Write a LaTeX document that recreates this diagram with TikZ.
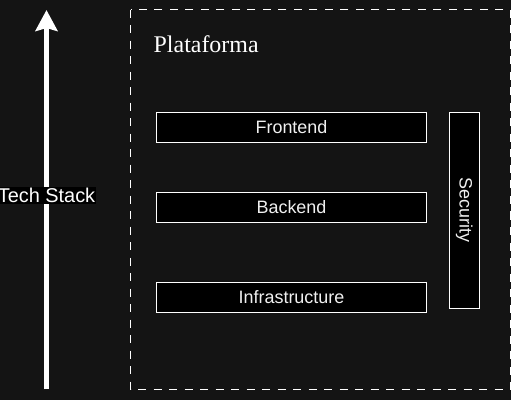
\documentclass[tikz,border=0pt]{standalone}
\usepackage{fontspec}
\setmainfont{Liberation Serif}
\setsansfont{Liberation Sans}
\usetikzlibrary{arrows.meta}
\definecolor{bgdark}{HTML}{141414}
\definecolor{textlight}{HTML}{F0F0F0}

\begin{document}
\begin{tikzpicture}[x=1bp, y=-1bp,
    layer/.style={draw=white, fill=black, text=textlight, line width=1bp, inner sep=0pt,
        minimum width=270bp, minimum height=30bp, font=\sffamily\fontsize{18}{20}\selectfont}]
        % Background
        \fill[bgdark] (0,0) rectangle (511,400);
        \useasboundingbox (0,0) rectangle (511,400);

        % Platform frame
        \draw[white, line width=1bp, dash pattern=on 8bp off 7.5bp] (130.5,9.5) rectangle (510.5,389.5);
        \node[anchor=base west, inner sep=0pt, text=white, font=\fontsize{24}{26}\selectfont] (plat) at (153.5,52.3) {Plataforma}; % Label inside the frame

        % Layers of the stack
        \foreach \name/\y/\label in {front/127.3/Frontend, back/207.3/Backend, infra/297.3/Infrastructure} {
            \node[layer] (\name) at (291.5,\y) {\label};
        }

        % Security across the layers
        \node[layer, rotate=-90, minimum width=196bp, minimum height=30bp] (sec) at (464.3,210.3) {Security};

        % Tech stack arrow
        \coordinate (stackbot) at (46.5,389);
        \coordinate (stacktop) at (46.5,10);
        \draw[white, line width=4.5bp, -{Stealth[length=21bp, width=22bp, inset=3bp]}] (stackbot) -- (stacktop)
            node[pos=0.51, fill=black, text=white, inner sep=1bp, font=\sffamily\fontsize{20}{22}\selectfont] (stack) {Tech Stack};
\end{tikzpicture}
\end{document}
